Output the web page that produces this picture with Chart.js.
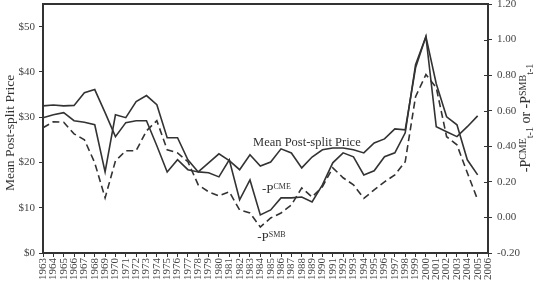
<!DOCTYPE html>
<html><head><meta charset="utf-8">
<script src="https://cdn.jsdelivr.net/npm/chart.js@4"></script>
<style>html,body{margin:0;padding:0;background:#fff}#wrap{width:538px;height:281px}</style>
</head><body><div id="wrap"><canvas id="c" width="538" height="281"></canvas></div>
<script>
const years = ['1963','1964','1965','1966','1967','1968','1969','1970','1971','1972','1973','1974','1975','1976','1977','1978','1979','1980','1981','1982','1983','1984','1985','1986','1987','1988','1989','1990','1991','1992','1993','1994','1995','1996','1997','1998','1999','2000','2001','2002','2003','2004','2005','2006'];
const meanPostSplitPrice = [32.5,32.7,32.5,32.6,35.4,36.1,31.0,25.7,28.8,29.2,29.2,23.7,17.9,20.6,18.4,17.9,19.9,21.9,20.4,18.4,21.7,19.2,20.1,23.0,22.1,18.8,21.2,22.8,23.2,23.2,22.8,22.1,24.3,25.2,27.4,27.2,40.9,47.8,27.9,26.8,25.7,27.9,30.3];
const negPCME = [0.561,0.577,0.589,0.544,0.535,0.521,0.256,0.577,0.561,0.651,0.685,0.634,0.448,0.448,0.324,0.256,0.251,0.228,0.324,0.099,0.211,0.014,0.042,0.110,0.110,0.115,0.087,0.183,0.307,0.363,0.341,0.239,0.262,0.341,0.363,0.476,0.859,1.017,0.752,0.566,0.521,0.324,0.239];
const negPSMB = [0.504,0.538,0.535,0.470,0.437,0.307,0.110,0.318,0.375,0.375,0.487,0.544,0.380,0.363,0.313,0.183,0.144,0.121,0.144,0.042,0.025,-0.054,-0.003,0.025,0.070,0.166,0.115,0.172,0.279,0.223,0.183,0.107,0.155,0.200,0.239,0.313,0.679,0.803,0.730,0.454,0.408,0.251,0.099];
const leftTickMax = 50;

const SERIF = "'Liberation Serif', 'Times New Roman', serif";
const INK = '#333';

function drawRich(ctx, parts, x, y, rot) {
  ctx.save();
  ctx.translate(x, y);
  if (rot) ctx.rotate(rot);
  let total = 0;
  parts.forEach(p => { ctx.font = p.s + 'px ' + SERIF; p.w = ctx.measureText(p.t).width; total += p.w; });
  let cx = rot ? -total / 2 : 0;
  ctx.textBaseline = 'alphabetic';
  ctx.textAlign = 'left';
  parts.forEach(p => { ctx.font = p.s + 'px ' + SERIF; ctx.fillText(p.t, cx, p.dy); cx += p.w; });
  ctx.restore();
}

const decor = {
  id: 'decor',
  afterDraw(chart) {
    const ctx = chart.ctx, a = chart.chartArea;
    const x = chart.scales.x, yL = chart.scales.yL, yR = chart.scales.yR;
    ctx.save();
    ctx.strokeStyle = INK; ctx.lineWidth = 2;
    ctx.beginPath(); ctx.moveTo(a.left - 1, a.top); ctx.lineTo(a.right + 1, a.top); ctx.stroke();
    ctx.lineWidth = 1;
    yR.ticks.forEach(t => { const py = Math.round(yR.getPixelForValue(t.value)) + 0.5; ctx.beginPath(); ctx.moveTo(a.right - 4, py); ctx.lineTo(a.right, py); ctx.stroke(); });
    ctx.fillStyle = INK;
    // left axis title
    ctx.save();
    ctx.translate(10, 133);
    ctx.rotate(-Math.PI / 2);
    ctx.font = '13.5px ' + SERIF; ctx.textAlign = 'center'; ctx.textBaseline = 'middle';
    ctx.fillText('Mean Post-split Price', 0, 0);
    ctx.restore();
    // right axis title
    drawRich(ctx, [
      {t: '-P', s: 14, dy: 0}, {t: 'CME', s: 10, dy: -4}, {t: 't-1', s: 10, dy: 3},
      {t: ' or -P', s: 14, dy: 0}, {t: 'SMB', s: 10, dy: -4}, {t: 't-1', s: 10, dy: 3}
    ], 530, 118, -Math.PI / 2);
    // in-plot labels
    ctx.font = '12.5px ' + SERIF; ctx.textAlign = 'left'; ctx.textBaseline = 'middle';
    ctx.fillText('Mean Post-split Price', x.getPixelForValue(20.3), yL.getPixelForValue(24.4));
    drawRich(ctx, [{t: '-P', s: 13, dy: 0}, {t: 'CME', s: 8, dy: -4}], x.getPixelForValue(21.15), yR.getPixelForValue(0.135), 0);
    drawRich(ctx, [{t: '-P', s: 13, dy: 0}, {t: 'SMB', s: 8, dy: -4}], x.getPixelForValue(20.7), yR.getPixelForValue(-0.13), 0);
    ctx.restore();
  }
};

const lineStyle = {borderColor: INK, borderWidth: 1.6, pointRadius: 0, tension: 0, fill: false};

new Chart(document.getElementById('c'), {
  type: 'line',
  data: {
    labels: years,
    datasets: [
      Object.assign({label: 'Mean Post-split Price', data: meanPostSplitPrice, yAxisID: 'yL'}, lineStyle),
      Object.assign({label: '-PCME', data: negPCME, yAxisID: 'yR'}, lineStyle),
      Object.assign({label: '-PSMB', data: negPSMB, yAxisID: 'yR', borderDash: [7, 4]}, lineStyle)
    ]
  },
  options: {
    responsive: false, animation: false, devicePixelRatio: 1,
    layout: {padding: {top: 4, left: 0, right: 0, bottom: 0}},
    plugins: {legend: {display: false}, tooltip: {enabled: false}},
    scales: {
      x: {
        type: 'category', offset: false,
        grid: {drawOnChartArea: false, tickLength: 4, color: INK, lineWidth: 1},
        border: {color: INK, width: 2},
        ticks: {autoSkip: false, maxRotation: 90, minRotation: 90, padding: 1, color: '#444', font: {family: SERIF, size: 11}},
        afterFit(s) { s.height = 28; }
      },
      yL: {
        position: 'left', min: 0, max: 55,
        grid: {drawOnChartArea: false, tickLength: 4, color: INK, lineWidth: 1},
        border: {color: INK, width: 2},
        ticks: {stepSize: 10, padding: 4, color: '#444', font: {family: SERIF, size: 11}, callback: v => '$' + v},
        afterBuildTicks(s) { s.ticks = s.ticks.filter(t => t.value <= leftTickMax); },
        afterFit(s) { s.width = 43; s.paddingTop = 0; s.paddingBottom = 0; }
      },
      yR: {
        position: 'right', min: -0.2, max: 1.2,
        grid: {drawOnChartArea: false, tickLength: 4, color: INK, lineWidth: 1},
        border: {color: INK, width: 2},
        ticks: {stepSize: 0.2, padding: 5, color: '#444', font: {family: SERIF, size: 11}, callback: v => Math.abs(v) < 1e-9 ? '0.00' : Number(v).toFixed(2)},
        afterFit(s) { s.width = 50; s.paddingTop = 0; s.paddingBottom = 0; }
      }
    }
  },
  plugins: [decor]
});
</script></body></html>
